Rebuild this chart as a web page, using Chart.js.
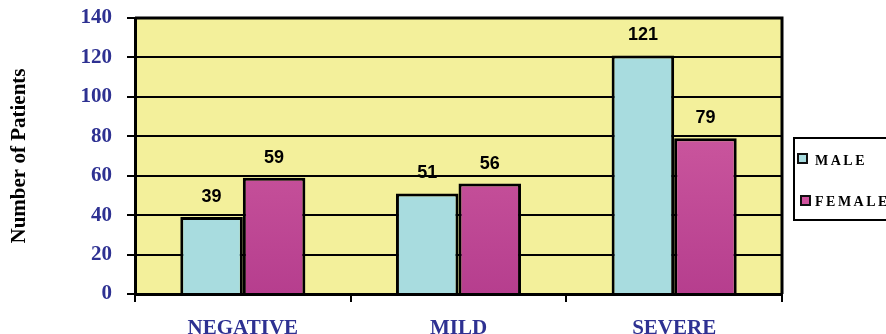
<!DOCTYPE html>
<html>
<head>
<meta charset="utf-8">
<script src="https://cdn.jsdelivr.net/npm/chart.js@4/dist/chart.umd.min.js"></script>
<style>
  html, body { margin: 0; padding: 0; background: #ffffff; overflow: hidden; }
  #c { display: block; }
</style>
</head>
<body>
<canvas id="c" width="886" height="334"></canvas>
<script>
// Patient counts by severity and sex
const categories = ['NEGATIVE', 'MILD', 'SEVERE'];
const maleValues = [39, 51, 121];
const femaleValues = [59, 56, 79];
const seriesNames = ['MALE', 'FEMALE'];

const NAVY = '#2E3192';
const MALE_FILL = '#A8DCDF';
const SERIF = '"Liberation Serif", "Times New Roman", serif';

function femaleFill(ctx) {
  const area = ctx.chart.chartArea;
  if (!area) return '#C94E98';
  const g = ctx.chart.ctx.createLinearGradient(0, area.top, 0, area.bottom);
  g.addColorStop(0, '#D866A8');
  g.addColorStop(1, '#B63E8E');
  return g;
}

// Yellow plot background and frame
const plotBackground = {
  id: 'plotBackground',
  beforeDraw(chart) {
    const { ctx, chartArea: a } = chart;
    ctx.save();
    ctx.fillStyle = '#F3F09B';
    ctx.fillRect(a.left, a.top, a.right - a.left, a.bottom - a.top);
    ctx.restore();
  },
  afterDatasetsDraw(chart) {
    const { ctx, chartArea: a } = chart;
    ctx.save();
    ctx.strokeStyle = '#000';
    ctx.lineWidth = 3;
    ctx.beginPath();
    ctx.moveTo(a.left, a.top);
    ctx.lineTo(a.right, a.top);
    ctx.lineTo(a.right, a.bottom);
    ctx.stroke();
    ctx.restore();
  }
};

// Value labels above each bar
const valueLabels = {
  id: 'valueLabels',
  afterDatasetsDraw(chart) {
    const { ctx } = chart;
    ctx.save();
    ctx.font = 'bold 18px "Liberation Sans", Arial, sans-serif';
    ctx.fillStyle = '#000';
    ctx.textAlign = 'center';
    ctx.textBaseline = 'middle';
    chart.data.datasets.forEach((ds, i) => {
      chart.getDatasetMeta(i).data.forEach((bar, j) => {
        ctx.fillText(String(ds.data[j]), bar.x, bar.y - 20);
      });
    });
    ctx.restore();
  }
};

// Boxed legend at the right
const boxLegend = {
  id: 'boxLegend',
  afterDraw(chart) {
    const { ctx } = chart;
    ctx.save();
    ctx.strokeStyle = '#000';
    ctx.lineWidth = 2;
    ctx.strokeRect(794, 138, 100, 82);
    const rows = [
      { y: 158, ty: 161, fill: MALE_FILL, mx: 798 },
      { y: 200, ty: 202, fill: '#D0529E', mx: 801 }
    ];
    ctx.font = 'bold 14px ' + SERIF;
    ctx.letterSpacing = '2.5px';
    ctx.textBaseline = 'middle';
    ctx.textAlign = 'left';
    rows.forEach((r, i) => {
      ctx.fillStyle = r.fill;
      ctx.fillRect(r.mx, r.y - 4, 9, 9);
      ctx.lineWidth = 2;
      ctx.strokeStyle = '#111';
      ctx.strokeRect(r.mx, r.y - 4, 9, 9);
      ctx.fillStyle = '#000';
      ctx.fillText(chart.data.datasets[i].label, 815, r.ty);
    });
    ctx.restore();
  }
};

new Chart(document.getElementById('c'), {
  type: 'bar',
  data: {
    labels: categories,
    datasets: [
      {
        label: seriesNames[0],
        data: maleValues,
        backgroundColor: MALE_FILL,
        borderColor: '#000',
        borderWidth: 3
      },
      {
        label: seriesNames[1],
        data: femaleValues,
        backgroundColor: femaleFill,
        borderColor: '#000',
        borderWidth: 3
      }
    ]
  },
  options: {
    responsive: false,
    animation: false,
    devicePixelRatio: 1,
    layout: { padding: { top: 18, right: 104, left: 0, bottom: 0 } },
    datasets: { bar: { categoryPercentage: 0.58, barPercentage: 1 } },
    plugins: {
      legend: { display: false },
      tooltip: { enabled: false }
    },
    scales: {
      x: {
        grid: {
          offset: true,
          drawOnChartArea: false,
          drawTicks: true,
          tickLength: 8,
          color: '#000',
          lineWidth: 2
        },
        border: { color: '#000', width: 3 },
        ticks: {
          color: NAVY,
          padding: 14,
          maxRotation: 0,
          autoSkip: false,
          font: { family: SERIF, size: 21, weight: 'bold' }
        },
        afterFit(s) { s.height = 40; s.paddingLeft = 0; s.paddingRight = 0; }
      },
      y: {
        min: 0,
        max: 140,
        ticks: {
          stepSize: 20,
          color: NAVY,
          padding: 15,
          font: { family: SERIF, size: 21, weight: 'bold' }
        },
        grid: { color: '#000', lineWidth: 2, tickLength: 8 },
        border: { color: '#000', width: 3 },
        title: {
          display: true,
          text: 'Number of Patients',
          color: '#000',
          padding: { top: 7, bottom: 0 },
          font: { family: SERIF, size: 21, weight: 'bold' }
        },
        afterFit(s) { s.width = 135; s.paddingTop = 0; s.paddingBottom = 0; }
      }
    }
  },
  plugins: [plotBackground, valueLabels, boxLegend]
});
</script>
</body>
</html>
